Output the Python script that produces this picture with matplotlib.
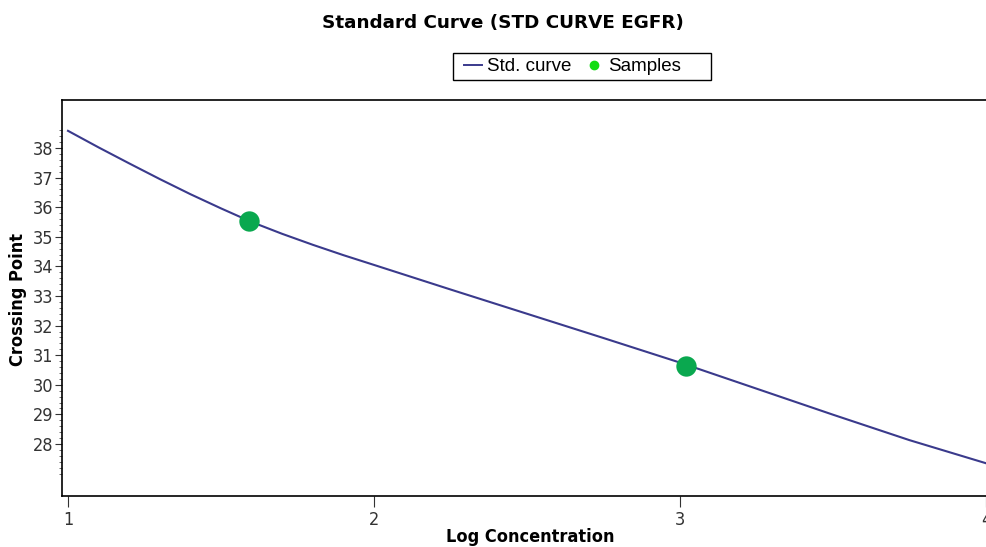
import matplotlib
matplotlib.use("Agg")
import numpy as np
import matplotlib.pyplot as plt
from matplotlib.ticker import FixedLocator
from matplotlib.lines import Line2D
from matplotlib.patches import Rectangle

curve_x = [1.0, 1.1, 1.2, 1.3, 1.4, 1.5, 1.6, 1.7, 1.8, 1.9, 2.0,
           2.25, 2.5, 2.75, 3.0, 3.25, 3.5, 3.75, 4.0, 4.05]
curve_y = [38.58, 38.02, 37.48, 36.95, 36.44, 35.96, 35.50, 35.10, 34.73, 34.38, 34.05,
           33.22, 32.40, 31.58, 30.75, 29.87, 28.99, 28.13, 27.35, 27.19]
sample_x = [1.592, 3.02]
sample_y = [35.52, 30.63]
x_ticks = [1, 2, 3, 4]
y_ticks = [28, 29, 30, 31, 32, 33, 34, 35, 36, 37, 38]

W, H = 987, 547
fig = plt.figure(figsize=(W / 100, H / 100), dpi=100)
ax = fig.add_axes([62 / W, 51 / H, 940 / W, 396 / H])

ax.plot(curve_x, curve_y, color="#3a3a8c", lw=1.5, zorder=2)
ax.scatter(sample_x, sample_y, s=215, color="#0aa84f", zorder=3, linewidths=0)

ax.set_xlim(1 - 6 / 306, 1 + (1002 - 68) / 306)
ax.set_ylim(38 - (496 - 148) / 29.6, 38 + 48 / 29.6)

tick_font = dict(family=["DejaVu Sans"], stretch="condensed", size=13)
ax.xaxis.set_major_locator(FixedLocator(x_ticks))
ax.yaxis.set_major_locator(FixedLocator(y_ticks))
ax.yaxis.set_minor_locator(FixedLocator(np.round(np.arange(27.0, 38.61, 0.2), 1)))
ax.set_xticklabels([str(t) for t in x_ticks], **tick_font)
ax.set_yticklabels([str(t) for t in y_ticks], **tick_font)
ax.tick_params(axis="x", direction="out", length=8, width=0.8, pad=3, colors="#333333")
ax.tick_params(axis="y", which="major", direction="out", length=5, width=0.8, pad=1, colors="#333333")
ax.tick_params(axis="y", which="minor", direction="out", length=2.5, width=0.6, colors="#555555")
for s in ax.spines.values():
    s.set_color("black")
    s.set_linewidth(1.2)

fig.text(530 / W, 1 - 537 / H, "Log Concentration", ha="center", va="center",
         fontsize=13, fontweight="bold", family=["DejaVu Sans"], stretch="condensed")
fig.text(18 / W, 1 - 299 / H, "Crossing Point", ha="center", va="center", rotation=90,
         fontsize=13, fontweight="bold", family=["DejaVu Sans"], stretch="condensed")

fig.text(503 / W, 1 - 23 / H, "Standard Curve (STD CURVE EGFR)", ha="center", va="center",
         fontsize=13.2, fontweight="heavy", family=["DejaVu Sans"])

# legend box
fig.patches.append(Rectangle((453 / W, 1 - 80 / H), 258 / W, 27 / H, transform=fig.transFigure,
                             facecolor="white", edgecolor="black", linewidth=1.0, zorder=1))
handles = [Line2D([0], [0], color="#3a3a8c", lw=1.4, label="Std. curve"),
           Line2D([0], [0], color="#11dd11", marker="o", markersize=6, lw=0, label="Samples")]
leg = fig.legend(handles=handles, loc="center left", bbox_to_anchor=(464 / W, 1 - 66.5 / H), ncol=2,
                 frameon=False, borderpad=0, borderaxespad=0,
                 prop=dict(family=["Liberation Sans", "DejaVu Sans"], size=13.5),
                 handlelength=0.95, handletextpad=0.3, columnspacing=0.7)
leg.set_zorder(2)

fig.savefig("out.png", dpi=100)
